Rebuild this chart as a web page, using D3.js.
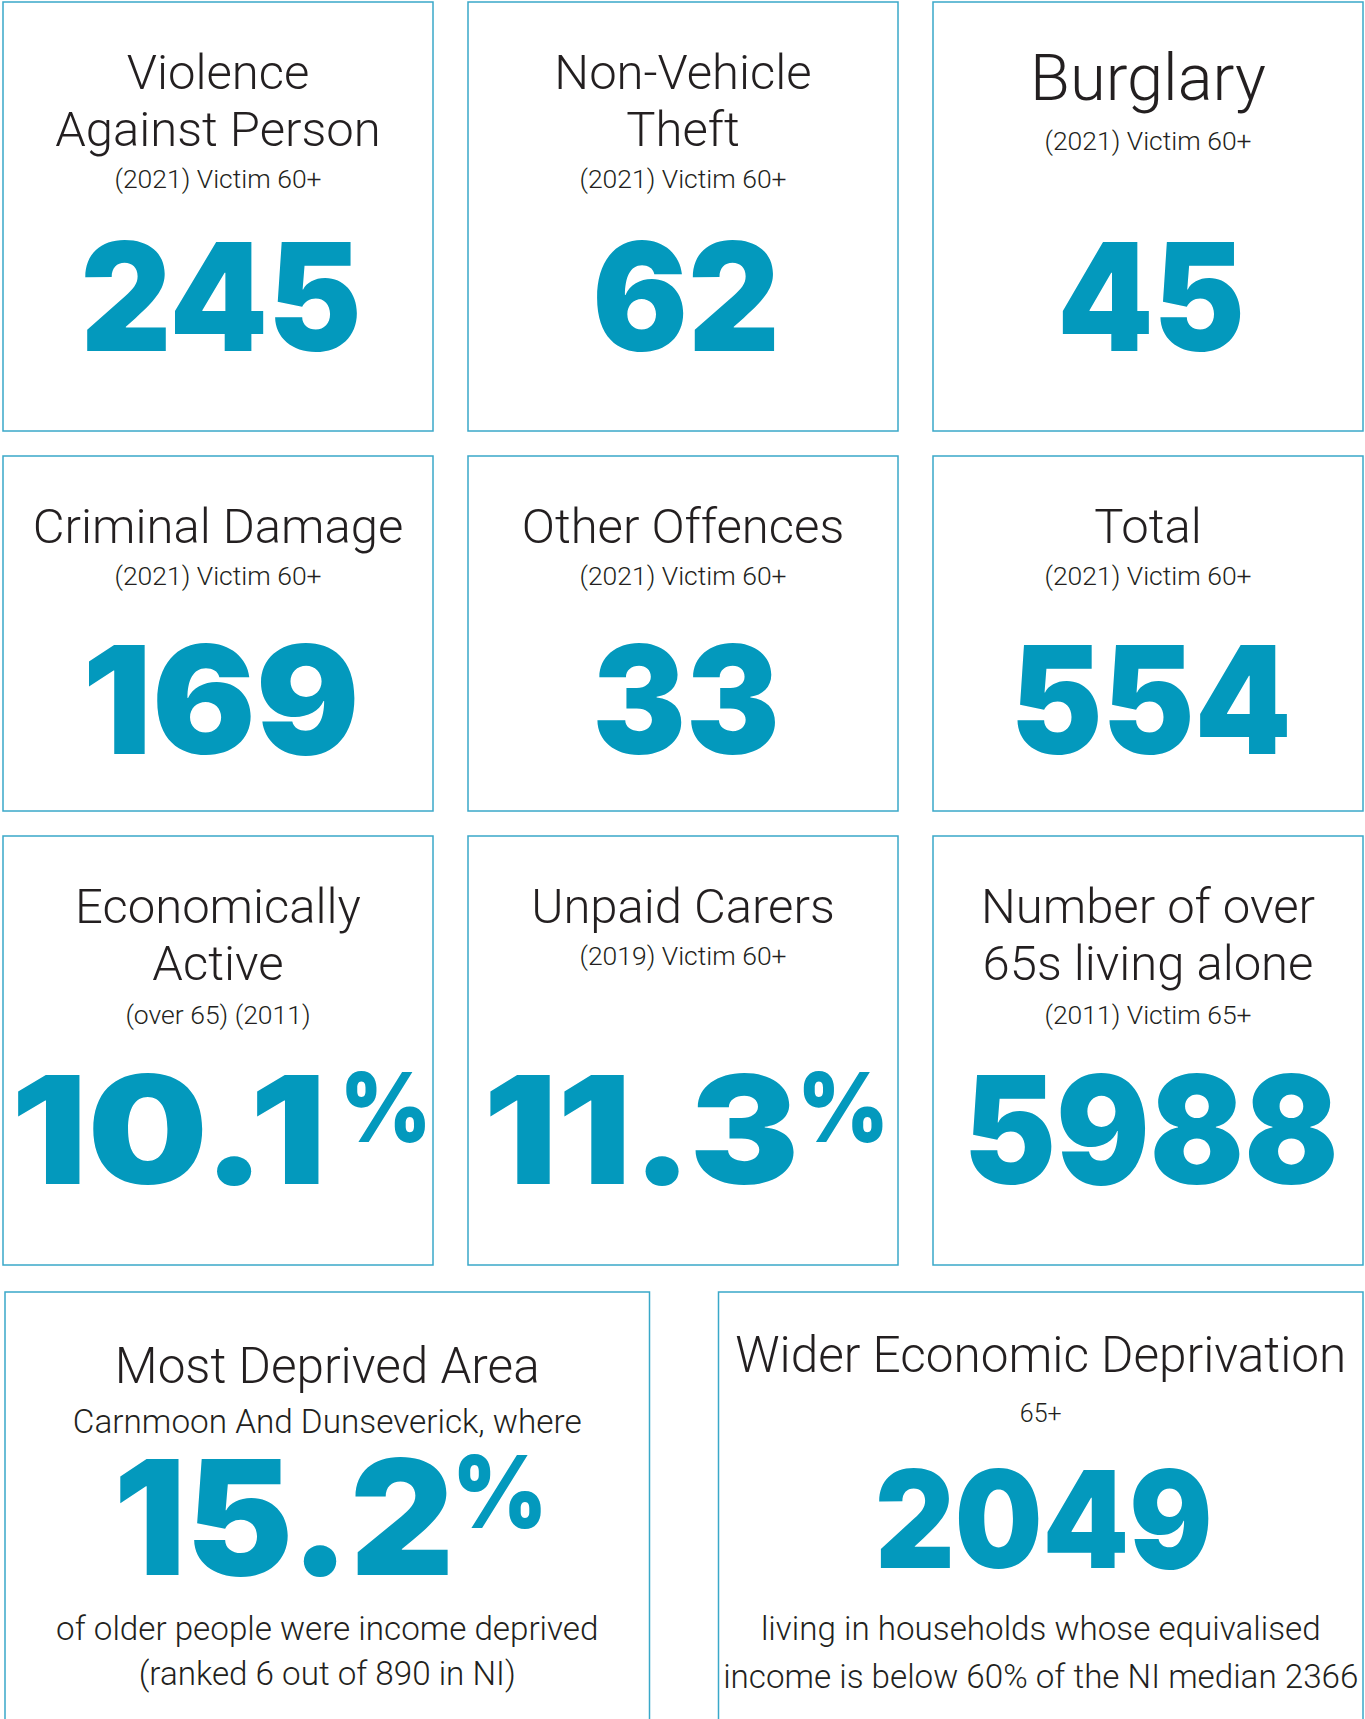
<!DOCTYPE html>
<html>
<head>
<meta charset="utf-8">
<script src="https://cdn.jsdelivr.net/npm/d3@7"></script>
<style>
  html, body { margin: 0; padding: 0; background: #ffffff; }
  svg { display: block; }
</style>
</head>
<body>
<script>
// ---------------- DATA ----------------
const cardTitles = [
  ["Violence", "Against Person"],
  ["Non-Vehicle", "Theft"],
  ["Burglary"],
  ["Criminal Damage"],
  ["Other Offences"],
  ["Total"],
  ["Economically", "Active"],
  ["Unpaid Carers"],
  ["Number of over", "65s living alone"],
  ["Most Deprived Area"],
  ["Wider Economic Deprivation"]
];
const cardSubtitles = [
  "(2021) Victim 60+", "(2021) Victim 60+", "(2021) Victim 60+",
  "(2021) Victim 60+", "(2021) Victim 60+", "(2021) Victim 60+",
  "(over 65) (2011)", "(2019) Victim 60+", "(2011) Victim 65+",
  "Carnmoon And Dunseverick, where", "65+"
];
const cardValues = [245, 62, 45, 169, 33, 554, 10.1, 11.3, 5988, 15.2, 2049];
const cardUnits  = ["", "", "", "", "", "", "%", "%", "", "%", ""];
const cardNotes = [
  [], [], [], [], [], [], [], [], [],
  ["of older people were income deprived", "(ranked 6 out of 890 in NI)"],
  ["living in households whose equivalised", "income is below 60% of the NI median 2366"]
];

// ---------------- LAYOUT / STYLE ----------------
const W = 1365, H = 1719;
const NUM_COLOR = "#0399bd", BORDER = "#3aa8c9", TEXT = "#231f20";
const THIN = "Roboto, 'Helvetica Neue', Arial, sans-serif";
const HEAVY = "Inter, 'Arial Black', 'DejaVu Sans', sans-serif";

const col3 = d3.scaleBand().domain([0, 1, 2]).range([3, 1363]).paddingInner(35 / 465);
const col2 = d3.scaleBand().domain([0, 1]).range([5, 1363]).paddingInner(69 / 713.5);
const rows = [
  { y: 2,    h: 429, num: 349 },
  { y: 456,  h: 355, num: 298 },
  { y: 836,  h: 429, num: 348 },
  { y: 1292, h: 460 }
];
// ink widths (em) of the heavy display face, used to size the figures
const ink = { "1": .6, ".": .28, "%": .95 };
const inkWidth = (s, fs) => d3.sum(Array.from(s), c => ink[c] || .625) * fs;
const trail = { "1": .09 };

const cards = cardValues.map((v, i) => {
  const bottom = i >= 9;
  const r = bottom ? rows[3] : rows[Math.floor(i / 3)];
  const x = bottom ? col2(i - 9) : col3(i % 3);
  const w = bottom ? col2.bandwidth() : col3.bandwidth();
  const st = {
    titleSize: 49, titleTop: 87, lineGap: 57, subGap: 42, subSize: 26.5,
    numOff: r.num, numSize: 150, pctSize: 96, pctRaise: 42,
    noteOff: [348, 396], noteSize: 33.2
  };
  if (i === 2) { st.titleSize = 65; st.titleTop = 98; st.subGap = 50; }
  if (i === 6 || i === 8) st.subGap = 44;
  if (i === 9) { st.titleSize = 49.5; st.titleTop = 91; st.subGap = 50; st.subSize = 33.3;
                 st.numOff = 283; st.numSize = 160; st.pctSize = 100; st.pctRaise = 47;
                 st.noteOff = [348, 393]; }
  if (i === 10) { st.titleSize = 49.5; st.titleTop = 80; st.subGap = 50; st.subSize = 25;
                  st.numOff = 276; st.numSize = 135; }
  return { i, x, y: r.y, w, h: r.h, st,
           title: cardTitles[i], sub: cardSubtitles[i],
           value: String(v), unit: cardUnits[i], notes: cardNotes[i] };
});

// ---------------- DRAW ----------------
const svg = d3.select("body").append("svg")
  .attr("width", W).attr("height", H).attr("viewBox", `0 0 ${W} ${H}`);
svg.append("rect").attr("width", W).attr("height", H).attr("fill", "#fff");

const g = svg.selectAll("g.card").data(cards).join("g").attr("class", "card");

g.append("rect")
  .attr("x", d => d.x).attr("y", d => d.y)
  .attr("width", d => d.w).attr("height", d => d.h)
  .attr("fill", "none").attr("stroke", BORDER).attr("stroke-width", 1.5);

g.each(function (d) {
  const sel = d3.select(this);
  const cx = d.x + d.w / 2;
  const st = d.st;
  d.title.forEach((t, k) => {
    sel.append("text")
      .attr("x", cx).attr("y", d.y + st.titleTop + k * st.lineGap)
      .attr("text-anchor", "middle")
      .attr("font-family", THIN).attr("font-weight", 300)
      .attr("font-size", st.titleSize).attr("fill", TEXT)
      .text(t);
  });
  const subY = d.y + st.titleTop + (d.title.length - 1) * st.lineGap + st.subGap;
  sel.append("text")
    .attr("x", cx).attr("y", subY)
    .attr("text-anchor", "middle")
    .attr("font-family", THIN).attr("font-weight", 300)
    .attr("font-size", st.subSize).attr("fill", TEXT)
    .text(d.sub);

  // big figure
  const numW = inkWidth(d.value, st.numSize);
  const gap = d.unit ? (trail[d.value.slice(-1)] || -.01) * st.numSize : 0;
  const pctW = d.unit ? inkWidth(d.unit, st.pctSize) : 0;
  const total = numW + gap + pctW;
  const x0 = cx - total / 2 + 3;
  const baseY = d.y + st.numOff;
  sel.append("text")
    .attr("x", x0).attr("y", baseY)
    .attr("font-family", HEAVY).attr("font-weight", 900)
    .attr("font-size", st.numSize).attr("fill", NUM_COLOR)
    .attr("textLength", numW).attr("lengthAdjust", "spacingAndGlyphs")
    .text(d.value);
  if (d.unit) {
    sel.append("text")
      .attr("x", x0 + numW + gap).attr("y", baseY - st.pctRaise)
      .attr("font-family", HEAVY).attr("font-weight", 900)
      .attr("font-size", st.pctSize).attr("fill", NUM_COLOR)
      .attr("textLength", pctW).attr("lengthAdjust", "spacingAndGlyphs")
      .text(d.unit);
  }

  d.notes.forEach((t, k) => {
    sel.append("text")
      .attr("x", cx).attr("y", d.y + st.noteOff[k])
      .attr("text-anchor", "middle")
      .attr("font-family", THIN).attr("font-weight", 300)
      .attr("font-size", st.noteSize).attr("fill", TEXT)
      .text(t);
  });
});
</script>
</body>
</html>
